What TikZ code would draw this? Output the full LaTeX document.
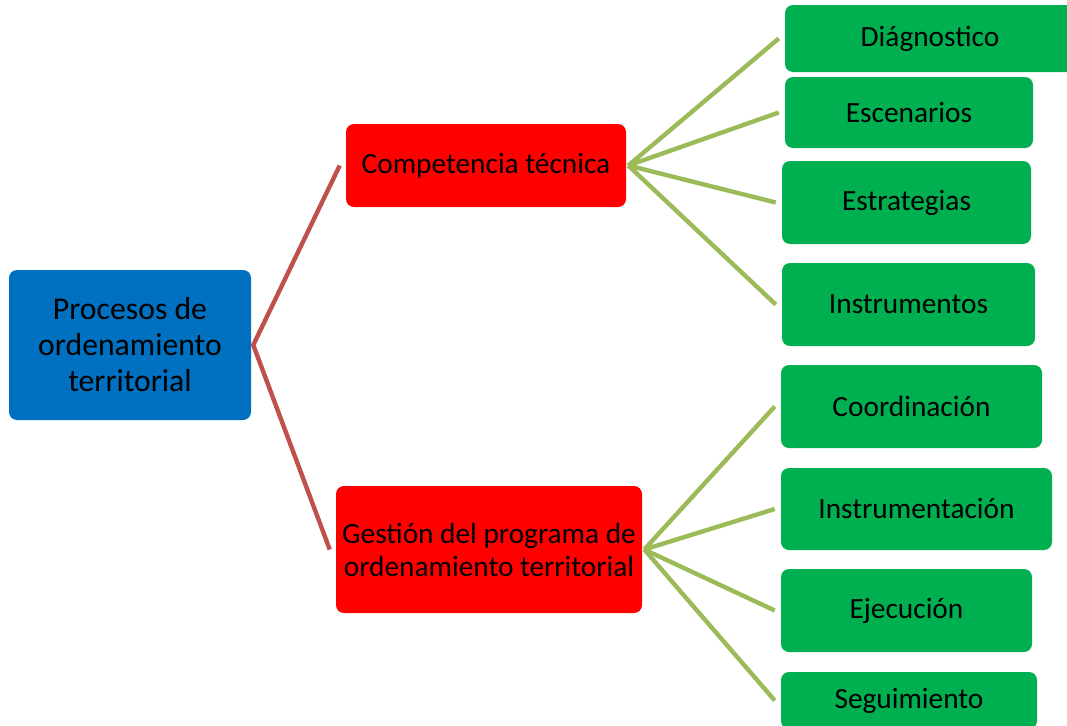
\documentclass[tikz,border=0pt]{standalone}
\usepackage{fontspec}
\setmainfont{Carlito}
\definecolor{rootblue}{HTML}{0070C0}
\definecolor{midred}{HTML}{FF0000}
\definecolor{leafgreen}{HTML}{00B050}
\definecolor{trunkred}{HTML}{C0504D}
\definecolor{twiggreen}{HTML}{9BBB59}
\begin{document}
\begin{tikzpicture}[x=0.75pt,y=-0.75pt,
  sz/.style 2 args={minimum width={#1*0.75pt}, minimum height={#2*0.75pt}},
  box/.style={rounded corners=6pt, inner sep=0pt, align=center, text=black, draw=none},
  root/.style={box, fill=rootblue, font=\fontsize{23.8}{27}\selectfont},
  mid/.style={box, fill=midred, font=\fontsize{22}{24.75}\selectfont},
  leaf/.style={box, fill=leafgreen, font=\fontsize{22}{26}\selectfont},
  trunk/.style={draw=trunkred, line width=3.3pt},
  twig/.style={draw=twiggreen, line width=3.3pt},
]
\useasboundingbox (0,0) rectangle (1067,725);

% root and the two branches
\node[root, sz={242}{150}] (root) at (130,345) {Procesos de\\ordenamiento\\territorial};
\node[mid, sz={280}{83}] (comp) at (486,165.5) {Competencia técnica};
\node[mid, sz={306}{127}] (gest) at (489,549.5) {Gestión del programa de\\ordenamiento territorial};

% leaves of the first branch
\node[leaf, sz={290}{67}] (diag) at (930,38.5) {Diágnostico};
\node[leaf, sz={248}{71}] (esce) at (909,112.5) {Escenarios};
\node[leaf, sz={249}{83}] (estr) at (906.5,202.5) {Estrategias};
\node[leaf, sz={253}{83}] (inst) at (908.5,304.5) {Instrumentos};

% leaves of the second branch
\node[leaf, sz={261}{83}] (coor) at (911.5,406.5) {Coordinación};
\node[leaf, sz={271}{82}] (impl) at (916.5,509) {Instrumentación};
\node[leaf, sz={251}{83}] (ejec) at (906.5,610.5) {Ejecución};
\node[leaf, sz={256}{57}] (segu) at (909,700.5) {Seguimiento};

% trunk: root to both branches
\draw[trunk] ([xshift=-4.5pt]comp.west) -- ([xshift=1.5pt]root.east) -- ([xshift=-4.5pt]gest.west);

% twigs
\coordinate (ca) at ([xshift=1.5pt]comp.east);
\coordinate (ga) at ([xshift=1.5pt]gest.east);
\foreach \l in {diag,esce,estr,inst}
  \draw[twig] (ca) -- ([xshift=-4.5pt]\l.west);
\foreach \l in {coor,impl,ejec,segu}
  \draw[twig] (ga) -- ([xshift=-4.5pt]\l.west);
\end{tikzpicture}
\end{document}
